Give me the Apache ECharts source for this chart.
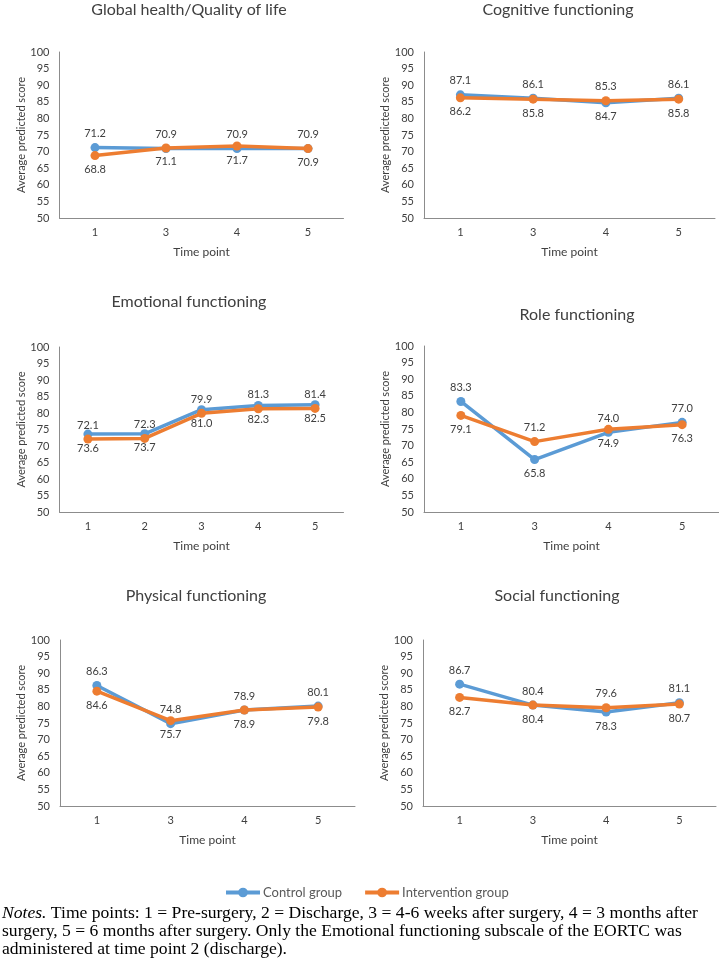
<!DOCTYPE html>
<html><head><meta charset="utf-8">
<script src="https://cdn.jsdelivr.net/npm/echarts@6/dist/echarts.min.js"></script>
<style>html,body{margin:0;padding:0;background:#fff}#c{width:719px;height:975px}</style>
</head><body><div id="c"></div>
<script>
// ---- data ----
const catsFour = ['1', '3', '4', '5'];
const catsFive = ['1', '2', '3', '4', '5'];
const yMin = 50, yMax = 100, yStep = 5;
const seriesNames = ['Control group', 'Intervention group'];

const globalControl = [71.2, 70.9, 70.9, 70.9];
const globalIntervention = [68.8, 71.1, 71.7, 70.9];
const cognitiveControl = [87.1, 86.1, 84.7, 86.1];
const cognitiveIntervention = [86.2, 85.8, 85.3, 85.8];
const emotionalControl = [73.6, 73.7, 81.0, 82.3, 82.5];
const emotionalIntervention = [72.1, 72.3, 79.9, 81.3, 81.4];
const roleControl = [83.3, 65.8, 74.0, 77.0];
const roleIntervention = [79.1, 71.2, 74.9, 76.3];
const physicalControl = [86.3, 74.8, 78.9, 80.1];
const physicalIntervention = [84.6, 75.7, 78.9, 79.8];
const socialControl = [86.7, 80.4, 78.3, 81.1];
const socialIntervention = [82.7, 80.4, 79.6, 80.7];

const notesLines = [
  'Time points: 1 = Pre-surgery, 2 = Discharge, 3 = 4-6 weeks after surgery, 4 = 3 months after',
  'surgery, 5 = 6 months after surgery. Only the Emotional functioning subscale of the EORTC was',
  'administered at time point 2 (discharge).'
];

// ---- layout / style ----
const T = 'top', B = 'bottom';
const panels = [
  {title: 'Global health/Quality of life', cats: catsFour, ctrl: globalControl, intv: globalIntervention,
   ctrlPos: [T, T, T, T], intvPos: [B, B, B, B], box: {left: 59.5, top: 52, width: 284, height: 166}, tx: 189, ty: 10},
  {title: 'Cognitive functioning', cats: catsFour, ctrl: cognitiveControl, intv: cognitiveIntervention,
   ctrlPos: [T, T, B, T], intvPos: [B, B, T, B], box: {left: 424, top: 52, width: 291, height: 166}, tx: 558, ty: 10},
  {title: 'Emotional functioning', cats: catsFive, ctrl: emotionalControl, intv: emotionalIntervention,
   ctrlPos: [B, B, B, B, B], intvPos: [T, T, T, T, T], box: {left: 59.5, top: 347, width: 284, height: 165}, tx: 189, ty: 302},
  {title: 'Role functioning', cats: catsFour, ctrl: roleControl, intv: roleIntervention,
   ctrlPos: [T, B, T, T], intvPos: [B, T, B, B], box: {left: 424, top: 346, width: 296, height: 166}, tx: 577, ty: 315},
  {title: 'Physical functioning', cats: catsFour, ctrl: physicalControl, intv: physicalIntervention,
   ctrlPos: [T, T, T, T], intvPos: [B, B, B, B], box: {left: 60, top: 640, width: 295, height: 166}, tx: 196, ty: 596},
  {title: 'Social functioning', cats: catsFour, ctrl: socialControl, intv: socialIntervention,
   ctrlPos: [T, T, B, T], intvPos: [B, B, T, B], box: {left: 423, top: 640, width: 293, height: 166}, tx: 557, ty: 596}
];

const FONT = 'Lato, "Open Sans", sans-serif';
const SERIF = '"Liberation Serif", "Times New Roman", serif';
const BLUE = '#5B9BD5', ORANGE = '#ED7D31', AXIS = '#8c8c8c', TXT = '#404040';

const grid = [], xAxis = [], yAxis = [], series = [], graphic = [];
function items(vals, pos) {
  return vals.map((v, i) => ({value: v, label: {position: pos[i]}}));
}
panels.forEach((p, k) => {
  grid.push(Object.assign({containLabel: false}, p.box));
  xAxis.push({
    type: 'category', gridIndex: k, data: p.cats, boundaryGap: true,
    axisLine: {lineStyle: {color: AXIS, width: 1}}, axisTick: {show: false},
    axisLabel: {color: TXT, fontSize: 11, fontFamily: FONT, margin: 9},
    name: 'Time point', nameLocation: 'middle', nameGap: 28,
    nameTextStyle: {color: TXT, fontSize: 12, fontFamily: FONT}
  });
  yAxis.push({
    type: 'value', gridIndex: k, min: yMin, max: yMax, interval: yStep,
    axisLine: {show: true, lineStyle: {color: AXIS, width: 1}}, axisTick: {show: false},
    splitLine: {show: false},
    axisLabel: {color: TXT, fontSize: 11, fontFamily: FONT, margin: 10},
    name: 'Average predicted score', nameLocation: 'middle', nameRotate: 90, nameGap: 32,
    nameTextStyle: {color: TXT, fontSize: 11, fontFamily: FONT}
  });
  [[p.ctrl, p.ctrlPos, BLUE, 0], [p.intv, p.intvPos, ORANGE, 1]].forEach(([vals, pos, col, s]) => {
    series.push({
      name: seriesNames[s], type: 'line', xAxisIndex: k, yAxisIndex: k,
      data: items(vals, pos), symbol: 'circle', symbolSize: 9, z: 2 + s,
      lineStyle: {color: col, width: 3.5}, itemStyle: {color: col},
      label: {show: true, color: TXT, fontSize: 11, fontFamily: FONT, distance: 4,
              formatter: (d) => d.value.toFixed(1)},
      animation: false
    });
  });
  graphic.push({
    type: 'text', x: p.tx, y: p.ty,
    style: {text: p.title, fill: TXT, font: '16px ' + FONT, align: 'center', verticalAlign: 'middle',
            textAlign: 'center', textVerticalAlign: 'middle'}
  });
});

graphic.push({
  type: 'text', x: 2, y: 904,
  style: {
    text: '{i|Notes.}{n| ' + notesLines[0] + '}\n' + notesLines.slice(1).map(l => '{n|' + l + '}').join('\n'),
    rich: {
      i: {fontStyle: 'italic', fontFamily: SERIF, fontSize: 17.6, lineHeight: 18, fill: '#000', color: '#000'},
      n: {fontFamily: SERIF, fontSize: 17.6, lineHeight: 18, fill: '#000', color: '#000'}
    },
    fill: '#000', font: '17.6px ' + SERIF, lineHeight: 18,
    verticalAlign: 'top', textVerticalAlign: 'top', align: 'left', textAlign: 'left'
  }
});

const chart = echarts.init(document.getElementById('c'), null, {renderer: 'canvas'});
chart.setOption({
  backgroundColor: '#fff',
  animation: false,
  grid, xAxis, yAxis, series, graphic,
  legend: {
    data: seriesNames, left: 224, top: 886, padding: 0, itemWidth: 34, itemHeight: 12, itemGap: 21,
    lineStyle: {width: 4},
    textStyle: {color: '#595959', fontSize: 13, fontFamily: FONT, padding: [0, 0, 0, -2]}
  }
});
</script></body></html>
